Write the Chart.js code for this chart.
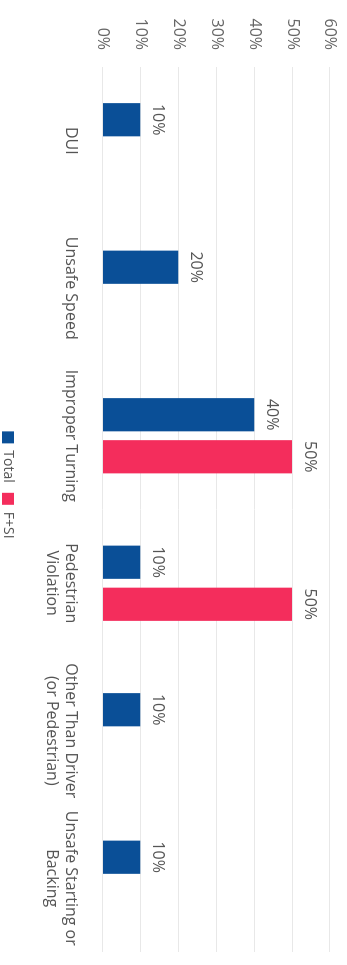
<!DOCTYPE html>
<html>
<head>
<meta charset="utf-8">
<script src="https://cdn.jsdelivr.net/npm/chart.js@4"></script>
<style>
  html, body { margin: 0; padding: 0; background: #fff; overflow: hidden; }
  #wrap {
    position: absolute; left: 0; top: 0;
    width: 965px; height: 347px;
    transform-origin: 0 0;
    transform: translate(347px, 0) rotate(90deg);
  }
</style>
</head>
<body>
<div id="wrap"><canvas id="chart" width="965" height="347"></canvas></div>
<script>
const categories = [
  ['DUI'],
  ['Unsafe Speed'],
  ['Improper Turning'],
  ['Pedestrian', 'Violation'],
  ['Other Than Driver', '(or Pedestrian)'],
  ['Unsafe Starting or', 'Backing']
];
const totalValues = [10, 20, 40, 10, 10, 10];
const fsiValues = [null, null, 50, 50, null, null];
const yTicks = [0, 10, 20, 30, 40, 50, 60];

const FONT = '"Open Sans", sans-serif';

// value labels above the bars
const barLabels = {
  id: 'barLabels',
  afterDatasetsDraw(chart) {
    const ctx = chart.ctx;
    ctx.save();
    ctx.font = '16px ' + FONT;
    ctx.fillStyle = '#555';
    ctx.textAlign = 'center';
    ctx.textBaseline = 'alphabetic';
    chart.data.datasets.forEach((ds, i) => {
      chart.getDatasetMeta(i).data.forEach((bar, j) => {
        const v = ds.data[j];
        if (v == null) return;
        ctx.fillText(v + '%', bar.x, bar.y - 13);
      });
    });
    ctx.restore();
  }
};

new Chart(document.getElementById('chart'), {
  type: 'bar',
  data: {
    labels: categories,
    datasets: [
      { label: 'Total', data: totalValues, backgroundColor: '#0a4f97' },
      { label: 'F+SI', data: fsiValues, backgroundColor: '#f42d5c' }
    ]
  },
  options: {
    responsive: false,
    animation: false,
    devicePixelRatio: 1,
    barPercentage: 0.79,
    categoryPercentage: 0.57,
    layout: { padding: { left: 18, top: 0, right: 13, bottom: -9 } },
    plugins: {
      legend: {
        position: 'bottom',
        labels: {
          boxWidth: 12, boxHeight: 12, padding: 10,
          color: '#555', font: { family: FONT, size: 14 }
        }
      },
      tooltip: { enabled: false }
    },
    scales: {
      x: {
        grid: { display: false },
        border: { display: false },
        afterFit: (axis) => { axis.height += 3; },
        ticks: { color: '#555', padding: 14, maxRotation: 0, font: { family: FONT, size: 16 } }
      },
      y: {
        min: yTicks[0],
        max: yTicks[yTicks.length - 1],
        afterBuildTicks: (axis) => { axis.ticks = yTicks.map(v => ({ value: v })); },
        afterFit: (axis) => { axis.width = 49; axis.paddingTop = 17; axis.paddingBottom = 0; },
        grid: { color: '#e8e8e8', drawTicks: false },
        border: { display: false },
        ticks: {
          color: '#666', padding: 17,
          font: { family: FONT, size: 16 },
          callback: (v) => v + '%'
        }
      }
    }
  },
  plugins: [barLabels]
});
</script>
</body>
</html>
